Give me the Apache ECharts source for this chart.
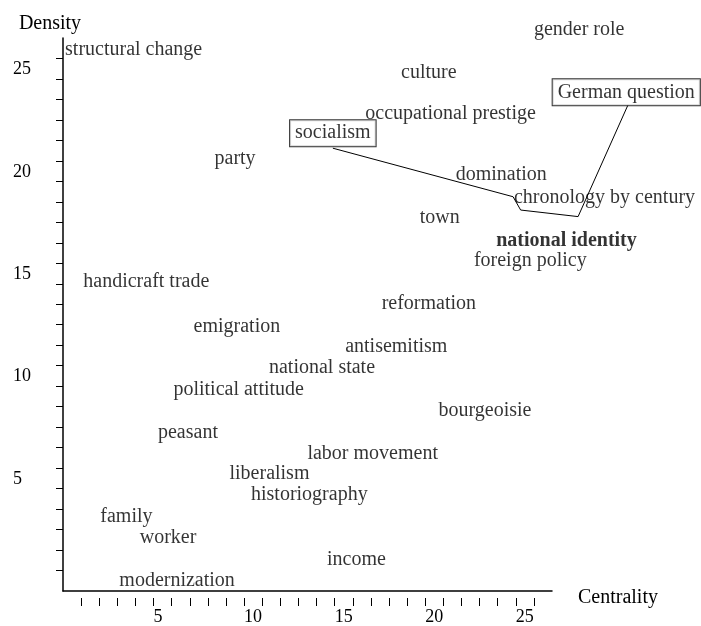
<!DOCTYPE html>
<html>
<head>
<meta charset="utf-8">
<script src="https://cdn.jsdelivr.net/npm/echarts@6/dist/echarts.min.js"></script>
<style>
html,body{margin:0;padding:0;background:#fff;}
#chart{width:701px;height:626px;}
</style>
</head>
<body>
<div id="chart"></div>
<script>
// ---- data ----
var terms = [
  "structural change", "party", "socialism", "gender role", "culture",
  "German question", "occupational prestige", "domination", "chronology by century",
  "town", "national identity", "foreign policy", "handicraft trade", "reformation",
  "emigration", "antisemitism", "national state", "political attitude", "bourgeoisie",
  "peasant", "labor movement", "liberalism", "historiography", "family", "worker",
  "income", "modernization"
];
var centrality = [
  3.9, 9.5, 14.9, 28.5, 20.2,
  31.1, 21.4, 24.2, 29.9,
  20.8, 27.8, 25.8, 4.6, 20.2,
  9.6, 18.4, 14.3, 9.7, 23.3,
  6.9, 17.1, 11.4, 13.6, 3.5, 5.8,
  16.2, 6.3
];
var density = [
  25.5, 20.2, 21.4, 26.5, 24.4,
  23.4, 22.4, 19.4, 18.3,
  17.3, 16.2, 15.2, 14.2, 13.1,
  12.0, 11.0, 10.0, 8.9, 7.9,
  6.8, 5.8, 4.8, 3.8, 2.7, 1.7,
  0.6, -0.4
];
// connecting path (socialism -> German question)
var pathCentrality = [14.9, 24.85, 25.27, 28.44, 31.2];
var pathDensity = [20.62, 18.25, 17.6, 17.28, 22.74];

var xTickValues = [1,2,3,4,5,6,7,8,9,10,11,12,13,14,15,16,17,18,19,20,21,22,23,24,25,26];
var xTickLabels = [5, 10, 15, 20, 25];
var yTickValues = [0,1,2,3,4,5,6,7,8,9,10,11,12,13,14,15,16,17,18,19,20,21,22,23,24,25];
var yTickLabels = [5, 10, 15, 20, 25];

var boxed = ["socialism", "German question"];
var bold = ["national identity"];

// ---- chart ----
var FONT = "'Liberation Serif', 'DejaVu Serif', serif";
var chart = echarts.init(document.getElementById('chart'), null, {renderer: 'canvas'});

// display grid: x 0..27 over 489px, y -1..26 over 553px
var X_MIN = 0, X_MAX = 27, Y_MIN = -1, Y_MAX = 26;
var G_LEFT = 63, G_RIGHT = 149, G_TOP = 38, G_BOTTOM = 35, W = 701, H = 626;
var pxPerX = (W - G_LEFT - G_RIGHT) / (X_MAX - X_MIN);
var pxPerY = (H - G_TOP - G_BOTTOM) / (Y_MAX - Y_MIN);
// data grid: same scale, extended to the canvas edges so outer labels are drawn
var DX_MAX = X_MIN + (W - G_LEFT) / pxPerX;
var DY_MAX = Y_MIN + (H - G_BOTTOM) / pxPerY;

var scatterData = terms.map(function (t, i) {
  var item = {name: t, value: [centrality[i], density[i]]};
  if (boxed.indexOf(t) >= 0) {
    item.label = {borderColor: '#000', borderWidth: 1, padding: [3, 5, 3, 5], backgroundColor: '#fff', offset: [0, 1]};
  }
  if (bold.indexOf(t) >= 0) {
    item.label = {fontWeight: 'bold'};
  }
  return item;
});
var pathData = pathCentrality.map(function (x, i) { return [x, pathDensity[i]]; });

var option = {
  animation: false,
  backgroundColor: '#fff',
  grid: [
    {left: G_LEFT, right: G_RIGHT, top: G_TOP, bottom: G_BOTTOM},
    {left: G_LEFT, right: 0, top: 0, bottom: G_BOTTOM}
  ],
  xAxis: [
    {
      gridIndex: 0, type: 'value', min: X_MIN, max: X_MAX,
      name: 'Centrality', nameLocation: 'end', nameGap: 26,
      nameTextStyle: {fontFamily: FONT, fontSize: 20, color: '#000', align: 'left', verticalAlign: 'top', lineHeight: 14},
      axisLine: {show: true, onZero: false, lineStyle: {color: '#000', width: 1.5}},
      axisTick: {show: false},
      axisLabel: {show: false},
      splitLine: {show: false}
    },
    {
      gridIndex: 0, type: 'value', min: X_MIN, max: X_MAX, position: 'bottom', offset: 7,
      axisLine: {show: false, onZero: false},
      axisTick: {show: true, length: 8, customValues: xTickValues, lineStyle: {color: '#000', width: 1}},
      axisLabel: {show: true, customValues: xTickLabels, align: 'left', margin: 10, fontFamily: FONT, fontSize: 18, color: '#000'},
      splitLine: {show: false}
    },
    {
      gridIndex: 1, type: 'value', min: X_MIN, max: DX_MAX, show: false
    }
  ],
  yAxis: [
    {
      gridIndex: 0, type: 'value', min: Y_MIN, max: Y_MAX,
      name: 'Density', nameLocation: 'end', nameGap: 4,
      nameTextStyle: {fontFamily: FONT, fontSize: 20, color: '#000', align: 'center', padding: [0, 26, 0, 0]},
      axisLine: {show: true, onZero: false, lineStyle: {color: '#000', width: 1.5}},
      axisTick: {show: true, length: 7, customValues: yTickValues, lineStyle: {color: '#000', width: 1}},
      axisLabel: {show: true, customValues: yTickLabels, align: 'left', margin: 50, verticalAlign: 'top', padding: [2, 0, 0, 0], fontFamily: FONT, fontSize: 18, color: '#000'},
      splitLine: {show: false}
    },
    {
      gridIndex: 1, type: 'value', min: Y_MIN, max: DY_MAX, show: false
    }
  ],
  series: [
    {
      type: 'line',
      xAxisIndex: 2, yAxisIndex: 1,
      data: pathData,
      symbol: 'none',
      silent: true,
      lineStyle: {color: '#000', width: 1},
      z: 1
    },
    {
      type: 'scatter',
      xAxisIndex: 2, yAxisIndex: 1,
      data: scatterData,
      symbolSize: 1,
      silent: true,
      itemStyle: {color: 'rgba(0,0,0,0)'},
      label: {
        show: true, position: 'inside', formatter: '{b}', offset: [0, 2],
        fontFamily: FONT, fontSize: 20, color: '#000'
      },
      emphasis: {disabled: true},
      z: 2
    }
  ]
};
chart.setOption(option);
</script>
</body>
</html>
